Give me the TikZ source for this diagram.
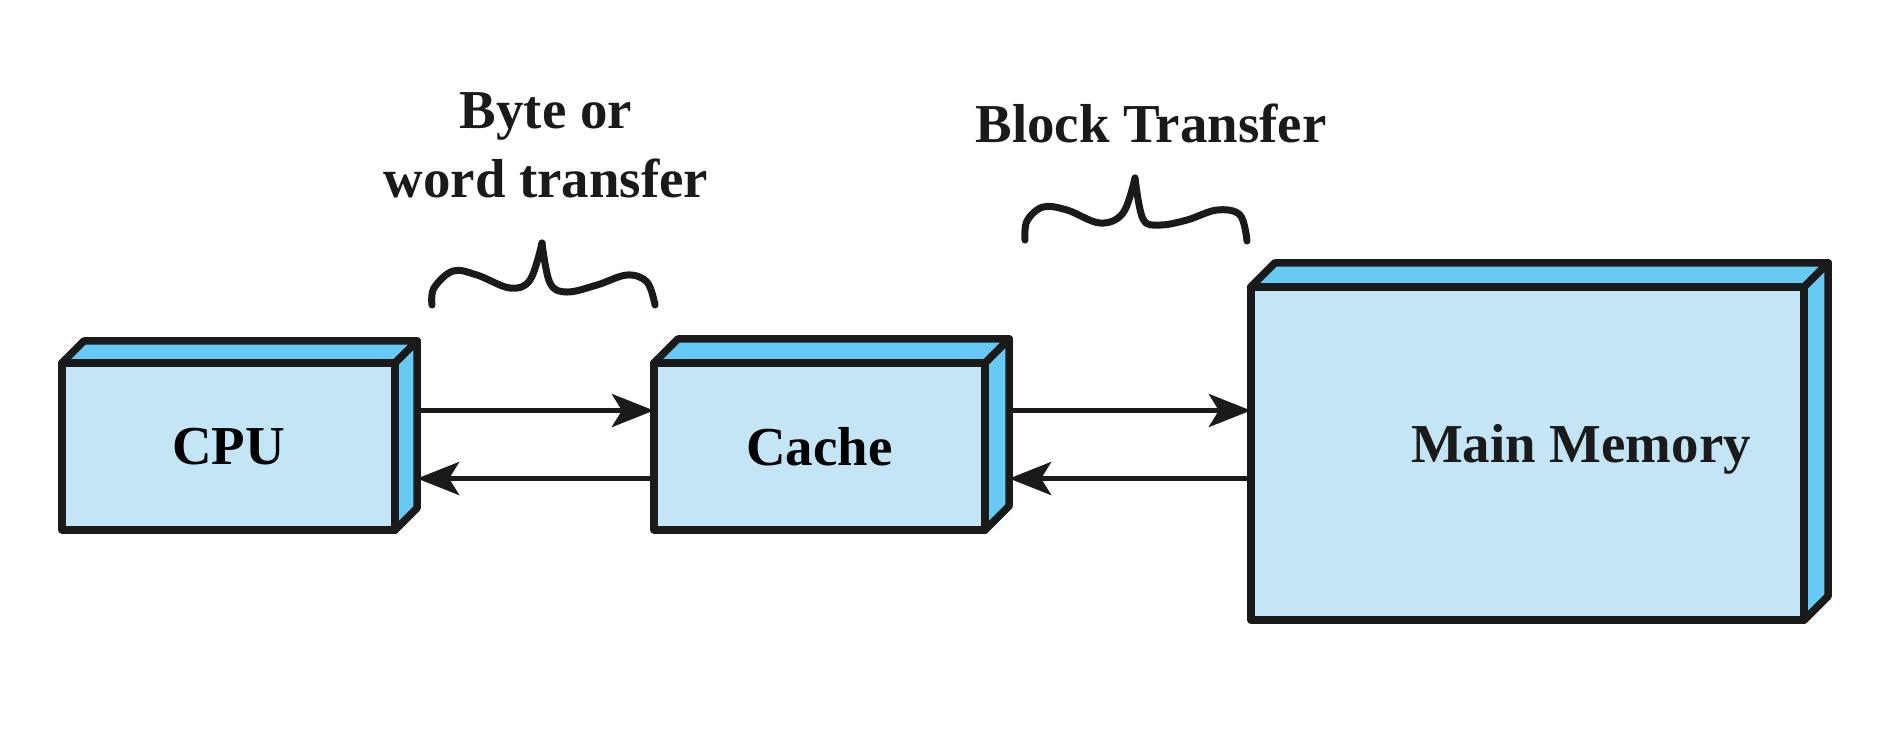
\documentclass[tikz,border=0pt]{standalone}
\usepackage{fontspec}
\setmainfont{Liberation Serif}
\usetikzlibrary{arrows.meta,calc}
\definecolor{front}{HTML}{C4E5F5}
\definecolor{side}{HTML}{66CAF4}
\definecolor{ink}{HTML}{1A1A1A}
\begin{document}
\begin{tikzpicture}[x=0.01cm,y=-0.01cm,
  box/.style={draw=ink, fill=front, line width=0.075cm, line join=round, outer sep=0pt, inner sep=0pt,
    font=\fontsize{15.6}{18}\selectfont\bfseries},
  face/.style={draw=ink, fill=side, line width=0.075cm, line join=round},
  arr/.style={draw=ink, line width=0.05cm, -{Stealth[length=4.2mm,width=3.3mm,inset=1mm]}},
  brc/.style={draw=ink, line width=0.07cm, line cap=round, line join=round},
  lbl/.style={font=\fontsize{15.6}{19.6}\selectfont\bfseries, align=center, inner sep=0pt, text=ink}]
\useasboundingbox (0,0) rectangle (1893,741);

% boxes (front faces)
\node[box, minimum width=3.33cm, minimum height=1.67cm] (cpu) at (228.5,446.5) {CPU};
\node[box, minimum width=3.31cm, minimum height=1.67cm] (cache) at (819.5,446.5) {Cache};
\node[box, minimum width=5.53cm, minimum height=3.33cm] (mm) at (1527.5,453.5) {};
\node[lbl, anchor=base] (mmtext) at (1581,462) {Main Memory};

% 3D faces
\foreach \n/\d in {cpu/22, cache/24, mm/24} {
  \draw[face] (\n.north west) -- ++(\d,-\d) -- ($(\n.north east)+(\d,-\d)$) -- (\n.north east) -- cycle;
  \draw[face] (\n.north east) -- ++(\d,-\d) -- ($(\n.south east)+(\d,-\d)$) -- (\n.south east) -- cycle;
}

% connectors
\draw[arr] ([shift={(22,-36)}]cpu.east) -- ([shift={(0,-36)}]cache.west);
\draw[arr] ([shift={(0,32)}]cache.west) -- ([shift={(22,32)}]cpu.east);
\draw[arr] ([shift={(24,-36)}]cache.east) -- ([shift={(0,-43)}]mm.west);
\draw[arr] ([shift={(0,25)}]mm.west) -- ([shift={(24,32)}]cache.east);

% labels
\node[lbl, anchor=base] (lbl1) at (546,197) {Byte or\\word transfer};
\node[lbl, anchor=base] (lbl2) at (1151,142) {Block Transfer};

% braces
\draw[brc] plot[smooth, tension=0.6] coordinates {(432,305) (434,288) (453,271) (477,275) (510,288) (530,280) (542,243)};
\draw[brc] plot[smooth, tension=0.6] coordinates {(542,243) (550,283) (567,292) (597,285) (627,275) (647,282) (655,305)};
\draw[brc] plot[smooth, tension=0.6] coordinates {(1025,240) (1027,221) (1043,207) (1067,210) (1100,223) (1123,213) (1135,178)};
\draw[brc] plot[smooth, tension=0.6] coordinates {(1135,178) (1143,219) (1160,225) (1187,220) (1217,210) (1240,215) (1247,241)};
\end{tikzpicture}
\end{document}
